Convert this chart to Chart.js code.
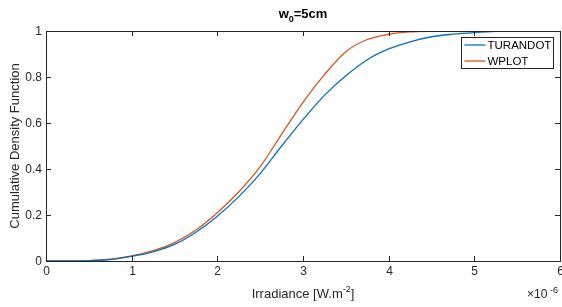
<!DOCTYPE html>
<html>
<head>
<meta charset="utf-8">
<script src="https://cdn.jsdelivr.net/npm/chart.js@4/dist/chart.umd.min.js"></script>
<style>
  html, body { margin: 0; padding: 0; background: #fff; }
  #wrap { width: 562px; height: 307px; }
</style>
</head>
<body>
<div id="wrap"><canvas id="myChart" width="562" height="307"></canvas></div>
<script>
// irradiance in units of 1e-6 W.m^-2
var irradiance = [0, 0.25, 0.5, 0.75, 1, 1.25, 1.5, 1.75, 2, 2.25, 2.5, 2.75, 3, 3.25, 3.5, 3.75, 4, 4.25, 4.5, 4.75, 5, 5.25, 5.5, 6];
var turandot = [0, 0, 0.001, 0.006, 0.02, 0.04, 0.072, 0.125, 0.195, 0.28, 0.38, 0.5, 0.615, 0.72, 0.805, 0.875, 0.922, 0.953, 0.975, 0.986, 0.993, 0.998, 1, 1];
var wplot = [0, 0, 0.002, 0.008, 0.022, 0.045, 0.08, 0.135, 0.21, 0.3, 0.41, 0.551, 0.69, 0.81, 0.91, 0.963, 0.986, 0.996, 0.999, 1, 1, 1, 1, 1];
var xTicks = [0, 1, 2, 3, 4, 5, 6];
var yTicks = [0, 0.2, 0.4, 0.6, 0.8, 1];

var FONT = 'Liberation Sans, Arial, sans-serif';
var INK = '#262626';

function toPoints(xs, ys) {
    var pts = [];
    for (let i = 0; i < xs.length; i++) {
        pts.push({x: xs[i], y: ys[i]});
    }
    return pts;
}

// draws matlab style box, inward ticks, labels, titles and legend
var matlabAxes = {
    id: 'matlabAxes',
    afterDraw: function(chart) {
        var ctx = chart.ctx;
        var a = chart.chartArea;
        var xs = chart.scales.x, ys = chart.scales.y;
        ctx.save();
        ctx.strokeStyle = INK;
        ctx.lineWidth = 1;
        ctx.strokeRect(Math.round(a.left) + 0.5, Math.round(a.top) + 0.5,
            Math.round(a.right - a.left), Math.round(a.bottom - a.top));

        ctx.fillStyle = INK;
        ctx.font = '12px ' + FONT;
        // x ticks
        ctx.textAlign = 'center';
        ctx.textBaseline = 'top';
        xTicks.forEach(function(v) {
            var px = Math.round(xs.getPixelForValue(v)) + 0.5;
            ctx.beginPath();
            ctx.moveTo(px, a.bottom); ctx.lineTo(px, a.bottom - 5);
            ctx.moveTo(px, a.top); ctx.lineTo(px, a.top + 5);
            ctx.stroke();
            ctx.fillText(String(v), px, a.bottom + 5);
        });
        // y ticks
        ctx.textAlign = 'right';
        ctx.textBaseline = 'middle';
        yTicks.forEach(function(v) {
            var py = Math.round(ys.getPixelForValue(v)) + 0.5;
            ctx.beginPath();
            ctx.moveTo(a.left, py); ctx.lineTo(a.left + 5, py);
            ctx.moveTo(a.right, py); ctx.lineTo(a.right - 5, py);
            ctx.stroke();
            ctx.fillText(String(Math.round(v * 10) / 10), a.left - 4, py);
        });

        // y axis title
        ctx.save();
        ctx.translate(15, (a.top + a.bottom) / 2);
        ctx.rotate(-Math.PI / 2);
        ctx.textAlign = 'center';
        ctx.textBaseline = 'middle';
        ctx.font = '13px ' + FONT;
        ctx.fillText('Cumulative Density Function', 0, 0);
        ctx.restore();

        // x axis title with superscript
        var cx = (a.left + a.right) / 2;
        var base = 298;
        var t1 = 'Irradiance [W.m', t2 = '-2', t3 = ']';
        ctx.font = '13px ' + FONT;
        var w1 = ctx.measureText(t1).width, w3 = ctx.measureText(t3).width;
        ctx.font = '9px ' + FONT;
        var w2 = ctx.measureText(t2).width;
        var sx = cx - (w1 + w2 + w3) / 2;
        ctx.textAlign = 'left';
        ctx.textBaseline = 'alphabetic';
        ctx.font = '13px ' + FONT;
        ctx.fillText(t1, sx, base);
        ctx.font = '9px ' + FONT;
        ctx.fillText(t2, sx + w1, base - 6);
        ctx.font = '13px ' + FONT;
        ctx.fillText(t3, sx + w1 + w2, base);

        // exponent label
        ctx.textAlign = 'left';
        ctx.font = '12px ' + FONT;
        ctx.fillText('\u00d710', 527, 298);
        ctx.font = '9px ' + FONT;
        ctx.fillText('-6', 550, 293);

        // title w0=5cm
        ctx.fillStyle = '#000';
        ctx.font = 'bold 13px ' + FONT;
        var tw1 = ctx.measureText('w').width;
        ctx.font = 'bold 9px ' + FONT;
        var tw2 = ctx.measureText('0').width;
        ctx.font = 'bold 13px ' + FONT;
        var tw3 = ctx.measureText('=5cm').width;
        var tx = cx - (tw1 + tw2 + tw3) / 2;
        ctx.fillText('w', tx, 18);
        ctx.font = 'bold 9px ' + FONT;
        ctx.fillText('0', tx + tw1, 22);
        ctx.font = 'bold 13px ' + FONT;
        ctx.fillText('=5cm', tx + tw1 + tw2, 18);

        // legend box
        var lx = 461.5, ly = 37.5, lw = 92, lh = 31;
        ctx.fillStyle = '#fff';
        ctx.fillRect(lx, ly, lw, lh);
        ctx.strokeStyle = INK;
        ctx.strokeRect(lx, ly, lw, lh);
        ctx.font = '11.5px ' + FONT;
        ctx.textBaseline = 'middle';
        chart.data.datasets.forEach(function(ds, i) {
            var yy = ly + 7.5 + i * 16;
            ctx.strokeStyle = ds.borderColor;
            ctx.lineWidth = 1.3;
            ctx.beginPath();
            ctx.moveTo(lx + 3, yy); ctx.lineTo(lx + 24, yy);
            ctx.stroke();
            ctx.fillStyle = '#000';
            ctx.fillText(ds.label, lx + 26, yy + 0.5);
        });
        ctx.restore();
    }
};

var ctx = document.getElementById('myChart').getContext('2d');
var myChart = new Chart(ctx, {
    type: 'line',
    data: {
        datasets: [{
            label: 'TURANDOT',
            data: toPoints(irradiance, turandot),
            borderColor: '#0072BD',
            borderWidth: 1.3,
            pointRadius: 0,
            cubicInterpolationMode: 'monotone',
            fill: false
        }, {
            label: 'WPLOT',
            data: toPoints(irradiance, wplot),
            borderColor: '#D95319',
            borderWidth: 1.3,
            pointRadius: 0,
            cubicInterpolationMode: 'monotone',
            fill: false
        }]
    },
    options: {
        responsive: false,
        animation: false,
        layout: { padding: { left: 46, top: 31, right: 2, bottom: 46 } },
        plugins: {
            legend: { display: false },
            tooltip: { enabled: false }
        },
        scales: {
            x: { type: 'linear', min: 0, max: 6, display: false },
            y: { min: 0, max: 1, display: false }
        }
    },
    plugins: [matlabAxes]
});
</script>
</body>
</html>
